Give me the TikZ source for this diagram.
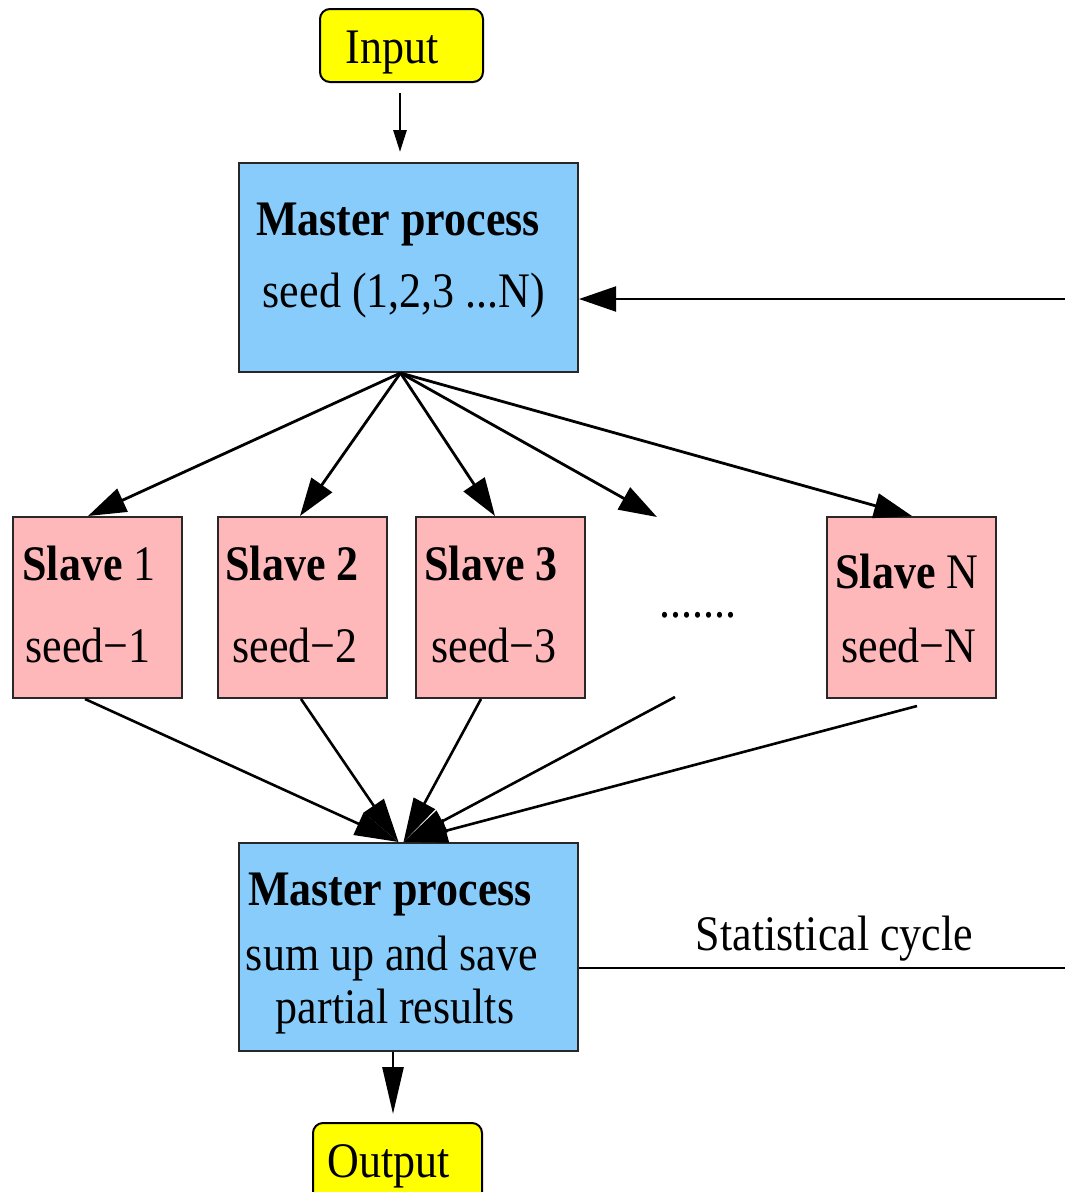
\documentclass[tikz,border=0pt]{standalone}
\usepackage{fontspec}
\setmainfont{Liberation Serif}
\usepackage{graphicx}
\usetikzlibrary{arrows.meta,calc}
\definecolor{mblue}{RGB}{135,204,250}
\definecolor{spink}{RGB}{255,184,186}
\definecolor{iyel}{RGB}{255,255,0}
\definecolor{edge}{RGB}{40,40,40}
\newcommand{\tl}[1]{\scalebox{1}[1.13]{#1}}
\tikzset{
  mbox/.style={draw=edge, line width=2pt, fill=mblue, minimum width=339pt, inner sep=0pt},
  sbox/.style={draw=edge, line width=2pt, fill=spink, minimum width=169pt, minimum height=181pt, inner sep=0pt},
  iobox/.style={draw=black, line width=2pt, fill=iyel, rounded corners=10pt, inner sep=0pt},
  txt/.style={anchor=base, inner sep=0pt, font=\fontsize{44}{50}\selectfont},
  fan/.style={line width=2.8pt, -{Triangle[length=38pt,width=25pt]}},
  fin/.style={line width=2.6pt, -{Triangle[length=44pt,width=24pt]}},
}
\begin{document}
\begin{tikzpicture}[x=1pt,y=-1pt]
\useasboundingbox (0,0) rectangle (1065,1192);
\clip (0,0) rectangle (1065,1192);
\fill[white] (0,0) rectangle (1065,1192);

% boxes
\node[iobox, minimum width=163pt, minimum height=73pt] (in) at (401.5,45.5) {};
\node[mbox, minimum height=209pt] (m1) at (408.5,267.5) {};
\node[sbox] (s1) at (97,607.5) {};
\node[sbox] (s2) at (302.5,607.5) {};
\node[sbox] (s3) at (500.5,607.5) {};
\node[sbox] (sN) at (911.5,607.5) {};
\node[mbox, minimum height=208pt] (m2) at (408.5,947) {};
\node[iobox, minimum width=169pt, minimum height=90pt] (out) at (397.5,1168) {};

% texts
\node[txt] (intx) at (392,63) {\tl{Input}};
\node[txt] (m1a) at (398,235) {\tl{\textbf{Master process}}};
\node[txt] (m1b) at (404,307) {\tl{seed (1,2,3 ...N)}};
\node[txt] (s1a) at (89,580) {\tl{\textbf{Slave} 1}};
\node[txt] (s1b) at (88,662) {\tl{seed−1}};
\node[txt] (s2a) at (292,580) {\tl{\textbf{Slave 2}}};
\node[txt] (s2b) at (295,662) {\tl{seed−2}};
\node[txt] (s3a) at (491,580) {\tl{\textbf{Slave 3}}};
\node[txt] (s3b) at (494,662) {\tl{seed−3}};
\node[txt] (sNa) at (907,588) {\tl{\textbf{Slave} N}};
\node[txt] (sNb) at (909,662) {\tl{seed−N}};
\node[txt] (dots) at (698,617) {\tl{.......}};
\node[txt] (m2a) at (390,905) {\tl{\textbf{Master process}}};
\node[txt] (m2b) at (392,970) {\tl{sum up and save}};
\node[txt] (m2c) at (395,1023) {\tl{partial results}};
\node[txt] (stat) at (834.5,950) {\tl{Statistical cycle}};
\node[txt] (outtx) at (389,1177) {\tl{Output}};

% free ends
\coordinate (m1o) at ($(m1.south)+(-8,0)$);
\coordinate (dotsin) at (657,517);
\coordinate (dotsout) at (675,697);
\coordinate (sNo) at (917,706);
\coordinate (tipL) at ($(m2.north)+(-10,0)$);
\coordinate (tipR) at ($(m2.north)+(-5,0)$);

% input arrow
\draw[line width=2.8pt, -{Triangle[length=22pt,width=13pt]}, shorten <=10pt, shorten >=10pt]
  ([xshift=-1.5pt]in.south) -- ([xshift=-1.5pt]in.south |- m1.north);

% fan out
\draw[fan] (m1o) -- ([xshift=-9pt]s1.north);
\draw[fan] (m1o) -- ([xshift=-2.5pt]s2.north);
\draw[fan] (m1o) -- ([xshift=-5.5pt]s3.north);
\draw[fan] (m1o) -- (dotsin);
\draw[fan] (m1o) -- ([xshift=0.5pt]sN.north);

% fan in
\draw[fin] ([xshift=-12pt]s1.south) -- (tipL);
\draw[fin] ([xshift=-1.5pt]s2.south) -- (tipL);
\draw[fin] ([xshift=-19.5pt]s3.south) -- (tipR);
\draw[fin] (dotsout) -- (tipR);
\draw[fin] (sNo) -- (tipR);

% statistical cycle loop
\draw[line width=2pt, -{Triangle[length=37pt,width=25pt]}]
  (m2.east |- 0,968) -- (1075,968) -- (1075,299) -- (m1.east |- 0,299);

% output arrow
\draw[line width=2.8pt, -{Triangle[length=47pt,width=21pt]}, shorten >=8pt]
  ([xshift=-15.5pt]m2.south) -- ([xshift=-15.5pt]m2.south |- out.north);
\end{tikzpicture}
\end{document}
